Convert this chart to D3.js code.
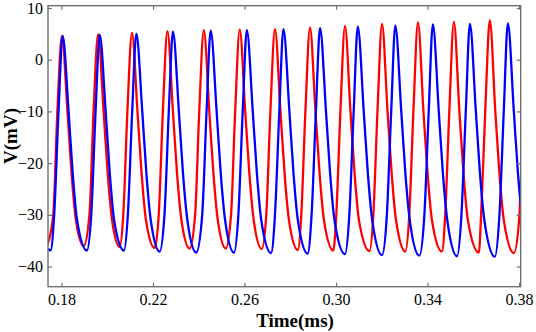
<!DOCTYPE html>
<html><head><meta charset="utf-8">
<script src="https://cdn.jsdelivr.net/npm/d3@7"></script>
<style>body{margin:0;background:#fff}svg{display:block}</style>
</head><body>
<svg id="c" width="536" height="332"></svg>
<script>
// ---- data (time in ms, membrane potential in mV) ----
const xTicks = [0.18, 0.22, 0.26, 0.30, 0.34, 0.38];
const yTicks = [-40, -30, -20, -10, 0, 10];

const redTime = [0.1738,
0.1764,0.1782,0.1802,0.1826,0.1844,0.1863,0.1897,
0.1922,0.1940,0.1960,0.1984,0.2002,0.2021,0.2054,
0.2070,0.2088,0.2108,0.2132,0.2150,0.2169,0.2207,
0.2225,0.2243,0.2263,0.2287,0.2305,0.2324,0.2360,
0.2384,0.2402,0.2422,0.2446,0.2464,0.2483,0.2518,
0.2541,0.2559,0.2579,0.2603,0.2621,0.2640,0.2675,
0.2695,0.2713,0.2733,0.2757,0.2775,0.2794,0.2833,
0.2848,0.2866,0.2886,0.2910,0.2928,0.2947,0.2988,
0.3001,0.3019,0.3039,0.3063,0.3081,0.3100,0.3146,
0.3163,0.3181,0.3201,0.3225,0.3243,0.3262,0.3303,
0.3320,0.3338,0.3358,0.3382,0.3400,0.3419,0.3463,
0.3477,0.3495,0.3515,0.3539,0.3557,0.3576,0.3624,
0.3634,0.3652,0.3672,0.3696,0.3714,0.3733,0.3777,
0.3800,0.3818];
const redVolt = [-35.8,
-30,-10,4.6,-10,-22,-31,-36.0,
-30,-10,4.9,-10,-22,-31,-36.2,
-30,-10,5.2,-10,-22,-31,-36.4,
-30,-10,5.5,-10,-22,-31,-36.5,
-30,-10,5.7,-10,-22,-31,-36.5,
-30,-10,5.8,-10,-22,-31,-36.6,
-30,-10,5.9,-10,-22,-31,-36.8,
-30,-10,6.2,-10,-22,-31,-36.9,
-30,-10,6.5,-10,-22,-31,-37.0,
-30,-10,6.9,-10,-22,-31,-37.1,
-30,-10,7.2,-10,-22,-31,-37.1,
-30,-10,7.3,-10,-22,-31,-37.3,
-30,-10,7.6,-10,-22,-31,-37.4,
-31,-10];

const blueTime = [0.1738,0.1752,
0.1768,0.1787,0.1805,0.1831,0.1849,0.1868,0.1911,
0.1930,0.1949,0.1967,0.1993,0.2011,0.2030,0.2073,
0.2090,0.2109,0.2127,0.2153,0.2171,0.2190,0.2229,
0.2250,0.2269,0.2287,0.2313,0.2331,0.2350,0.2389,
0.2415,0.2434,0.2452,0.2478,0.2496,0.2515,0.2554,
0.2573,0.2592,0.2610,0.2636,0.2654,0.2673,0.2716,
0.2733,0.2752,0.2770,0.2796,0.2814,0.2833,0.2876,
0.2893,0.2912,0.2930,0.2956,0.2974,0.2993,0.3039,
0.3058,0.3077,0.3095,0.3121,0.3139,0.3158,0.3201,
0.3222,0.3241,0.3259,0.3285,0.3303,0.3322,0.3364,
0.3386,0.3405,0.3423,0.3449,0.3467,0.3486,0.3529,
0.3548,0.3567,0.3585,0.3611,0.3629,0.3648,0.3694,
0.3714,0.3733,0.3751,0.3777,0.3795,0.3814];
const blueVolt = [-36.5,-36.9,
-30,-10,4.6,-10,-22,-31,-36.9,
-30,-10,4.8,-10,-22,-31,-36.9,
-30,-10,5.0,-10,-22,-31,-37.1,
-30,-10,5.4,-10,-22,-31,-37.3,
-30,-10,5.6,-10,-22,-31,-37.3,
-30,-10,5.7,-10,-22,-31,-37.4,
-30,-10,5.9,-10,-22,-31,-37.5,
-30,-10,6.1,-10,-22,-31,-37.6,
-30,-10,6.4,-10,-22,-31,-37.8,
-30,-10,6.6,-10,-22,-31,-37.9,
-30,-10,6.8,-10,-22,-31,-38.0,
-30,-10,6.9,-10,-22,-31,-38.1,
-30,-10,7.0,-10,-22,-31];

// ---- layout ----
const L = 48, R = 520.7, T = 5.7, B = 286.7;
const svg = d3.select("#c");
const x = d3.scaleLinear().domain([0.1741, 0.3807]).range([L, R]);
const y = d3.scaleLinear().domain([-43.9, 10.44]).range([B, T]);
const font = "'Times New Roman','Liberation Serif',serif";
const axisColor = "#707070";

svg.append("rect").attr("width", 536).attr("height", 332).attr("fill", "#fff");

svg.append("clipPath").attr("id", "clip").append("rect")
  .attr("x", L).attr("y", T).attr("width", R - L).attr("height", B - T);

const line = d3.line().x(d => x(d[0])).y(d => y(d[1])).curve(d3.curveMonotoneX);
const series = [
  {t: redTime, v: redVolt, color: "#ff0000"},
  {t: blueTime, v: blueVolt, color: "#0000ff"}
];
const g = svg.append("g").attr("clip-path", "url(#clip)");
series.forEach(s => {
  g.append("path")
    .attr("d", line(s.t.map((t, i) => [t, s.v[i]])))
    .attr("fill", "none").attr("stroke", s.color).attr("stroke-width", 2.3)
    .attr("stroke-linejoin", "round");
});

function styleAxis(sel, showLabels) {
  sel.select(".domain").remove();
  sel.selectAll(".tick line").attr("stroke", axisColor).attr("stroke-width", 1.2);
  sel.selectAll(".tick text").attr("fill", "#000").style("font-family", font).style("font-size", "16px");
  if (!showLabels) sel.selectAll(".tick text").remove();
}
svg.append("g").attr("transform", `translate(0,${B})`)
  .call(d3.axisBottom(x).tickValues(xTicks).tickSizeInner(-4).tickSizeOuter(0).tickPadding(7).tickFormat(d3.format(".2f")))
  .call(s => styleAxis(s, true));
svg.append("g").attr("transform", `translate(0,${T})`)
  .call(d3.axisTop(x).tickValues(xTicks).tickSizeInner(-4).tickSizeOuter(0))
  .call(s => styleAxis(s, false));
svg.append("g").attr("transform", `translate(${L},0)`)
  .call(d3.axisLeft(y).tickValues(yTicks).tickSizeInner(-4).tickSizeOuter(0).tickPadding(5).tickFormat(d3.format("d")))
  .call(s => styleAxis(s, true));
svg.append("g").attr("transform", `translate(${R},0)`)
  .call(d3.axisRight(y).tickValues(yTicks).tickSizeInner(-4).tickSizeOuter(0))
  .call(s => styleAxis(s, false));

svg.append("rect").attr("x", L).attr("y", T).attr("width", R - L).attr("height", B - T)
  .attr("fill", "none").attr("stroke", axisColor).attr("stroke-width", 1.4);

svg.append("text").attr("x", 295).attr("y", 327).attr("text-anchor", "middle")
  .style("font-family", font).style("font-size", "19px").style("font-weight", "bold")
  .text("Time(ms)");
svg.append("text").attr("transform", "translate(17,136) rotate(-90)").attr("text-anchor", "middle")
  .style("font-family", font).style("font-size", "19px").style("font-weight", "bold")
  .text("V(mV)");
</script>
</body></html>
